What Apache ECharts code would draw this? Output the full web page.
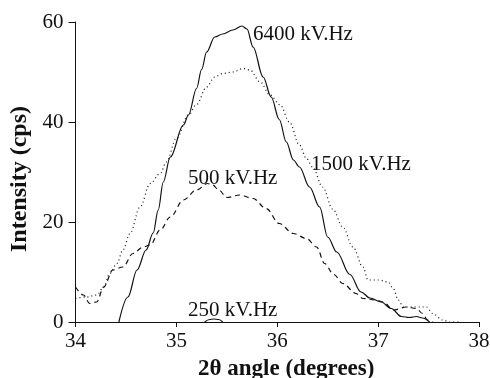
<!DOCTYPE html>
<html>
<head>
<meta charset="utf-8">
<script src="https://cdn.jsdelivr.net/npm/echarts@6/dist/echarts.min.js"></script>
<style>html,body{margin:0;padding:0;background:#fff}#c{width:490px;height:378px}</style>
</head>
<body>
<div id="c"></div>
<script>
// X tick labels / ranges
const xTicks = [34, 35, 36, 37, 38];
const yTicks = [0, 20, 40, 60];

// 6400 kV.Hz (solid)
const x6400 = [34.43,34.52,34.61,34.70,34.77,34.82,34.87,34.94,35.07,35.12,35.20,35.25,35.30,35.38,35.46,35.56,35.65,35.70,35.76,35.86,35.94,36.02,36.09,36.16,36.22,36.32,36.42,36.50,36.59,36.72,36.83,36.92,37.03,37.13,37.23,37.31,37.38,37.44,37.51];
const y6400 = [0,5,10.4,14.4,17.8,22.4,28,33,39.4,41.4,46.7,50.5,54,57,57.6,58.4,59.2,58.6,55,49,45,40.5,36,32.4,31,27,23,17,14,9.5,6,4.8,4,2.7,1.1,0.9,1.1,0.8,0];

// 1500 kV.Hz (dotted)
const x1500 = [34.0,34.11,34.21,34.28,34.34,34.41,34.47,34.54,34.64,34.74,34.84,34.90,35.0,35.12,35.20,35.30,35.38,35.46,35.56,35.66,35.73,35.83,35.93,36.03,36.12,36.22,36.29,36.35,36.45,36.55,36.65,36.75,36.85,36.90,37.01,37.10,37.15,37.20,37.25,37.38,37.48,37.54,37.64,37.71,37.80];
const y1500 = [4.7,5,5.4,7,9.7,11.7,14.4,17.7,23,27.7,29.7,32,36.7,41.4,43.5,47,49,49.7,50,50.7,50.4,48,45.4,43.4,40,35.4,32.7,31,27,22.6,19,15,11,8.4,8.4,8,6.7,4.4,3,3,3,1.7,0.4,0,0];

// 500 kV.Hz (dashed)
const x500 = [34.0,34.08,34.14,34.21,34.28,34.37,34.47,34.57,34.67,34.74,34.84,34.94,35.07,35.20,35.31,35.36,35.42,35.50,35.63,35.76,35.89,36.02,36.16,36.29,36.39,36.47,36.56,36.65,36.78,36.85,36.98,37.05,37.15,37.28,37.38,37.44,37.49,37.54];
const y500 = [7,5.4,3.7,4,7,10.4,11,13.7,15,15.4,18.4,21,24.4,26.4,27.7,27.4,26.4,24.9,25.4,24.7,22.7,19.7,17.7,16.7,15,11.7,9.5,7.7,5.7,4.7,4.4,4,2.4,3,2.7,1.7,0.4,0];

// 250 kV.Hz (solid small bump)
const x250 = [35.28,35.33,35.37,35.42,35.46];
const y250 = [0,0.5,0.6,0.5,0];

const labels = ['6400 kV.Hz', '1500 kV.Hz', '500 kV.Hz', '250 kV.Hz'];

const zip = (xs, ys) => xs.map((x, i) => [x, ys[i]]);
const FONT = 'Liberation Serif';
const INK = '#111';

const chart = echarts.init(document.getElementById('c'));
const baseLine = (name, xs, ys, type, w) => ({
  name, type: 'line', data: zip(xs, ys), showSymbol: false, symbol: 'none',
  smooth: 0.35, smoothMonotone: 'x', silent: true,
  lineStyle: { color: INK, width: w, type: type }
});

chart.setOption({
  animation: false,
  backgroundColor: '#fff',
  grid: { left: 75.5, right: 11, top: 22, bottom: 56, containLabel: false, outerBoundsMode: 'none' },
  xAxis: {
    type: 'value', min: 34, max: 38, interval: 1,
    name: '2θ angle (degrees)', nameLocation: 'middle', nameGap: 36,
    nameTextStyle: { fontFamily: FONT, fontSize: 23, fontWeight: 'bold', color: INK, padding: [0, 0, 0, 18] },
    axisLine: { show: true, lineStyle: { color: INK, width: 1 } },
    axisTick: { show: true, inside: false, length: 5, lineStyle: { color: INK } },
    axisLabel: { fontFamily: FONT, fontSize: 21, color: INK, margin: 9,
      formatter: v => xTicks.includes(v) ? String(v) : '' },
    splitLine: { show: false }
  },
  yAxis: {
    type: 'value', min: 0, max: 60, interval: 20,
    name: 'Intensity (cps)', nameLocation: 'middle', nameGap: 35,
    nameTextStyle: { fontFamily: FONT, fontSize: 24, fontWeight: 'bold', color: INK, padding: [0, 14, 0, 0] },
    axisLine: { show: true, lineStyle: { color: INK, width: 1 } },
    axisTick: { show: true, inside: false, length: 7, lineStyle: { color: INK } },
    axisLabel: { fontFamily: FONT, fontSize: 21, color: INK, margin: 12,
      formatter: v => yTicks.includes(v) ? String(v) : '' },
    splitLine: { show: false }
  },
  series: [
    baseLine(labels[0], x6400, y6400, 'solid', 1.2),
    baseLine(labels[1], x1500, y1500, [1, 3], 1.2),
    baseLine(labels[2], x500, y500, [5, 4], 1.2),
    baseLine(labels[3], x250, y250, 'solid', 1.2)
  ],
  graphic: [
    { type: 'text', left: 253, top: 24, style: { text: labels[0], font: `21px "${FONT}"`, fill: INK } },
    { type: 'text', left: 311, top: 154, style: { text: labels[1], font: `21px "${FONT}"`, fill: INK } },
    { type: 'text', left: 188, top: 168, style: { text: labels[2], font: `21px "${FONT}"`, fill: INK } },
    { type: 'text', left: 188, top: 300, style: { text: labels[3], font: `21px "${FONT}"`, fill: INK } }
  ]
});
</script>
</body>
</html>
